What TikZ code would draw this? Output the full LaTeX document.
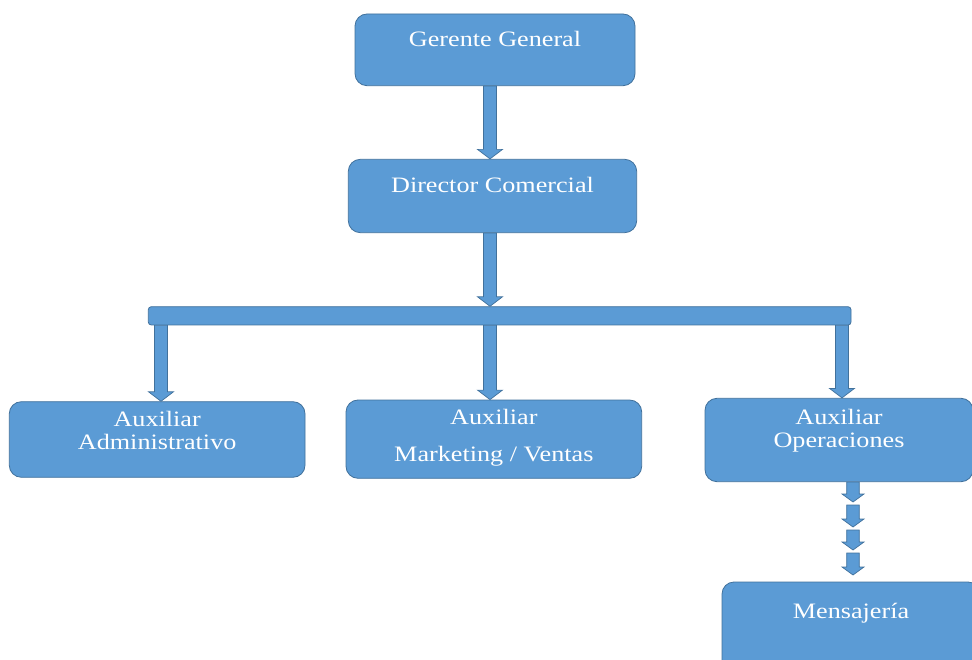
\documentclass[tikz,border=0pt]{standalone}
\usepackage{fontspec}
\setmainfont{Liberation Serif}[FakeStretch=1.19]
\usetikzlibrary{calc}
\definecolor{blu}{HTML}{5B9BD5}
\definecolor{bdr}{HTML}{41719C}
\tikzset{
  box/.style={rectangle, rounded corners=12pt, draw=bdr, fill=blu, line width=0.8pt, inner sep=0pt},
  txt/.style={text=white, font=\fontsize{22}{24}\selectfont, inner sep=0pt, anchor=base},
  blk/.style n args={3}{draw=bdr, fill=blu, line width=0.7pt, line join=miter,
    to path={let \p1=(\tikztostart), \p2=(\tikztotarget) in
      (\x1-#1,\y1) -- (\x1+#1,\y1) -- (\x1+#1,\y2+#3) -- (\x1+#2,\y2+#3) -- (\x1,\y2)
      -- (\x1-#2,\y2+#3) -- (\x1-#1,\y2+#3) -- cycle}},
  bigarrow/.style={blk={6.5pt}{12.5pt}{9.5pt}},
  smallarrow/.style={blk={6.3pt}{11pt}{8pt}}
}
\begin{document}
\begin{tikzpicture}[x=1pt,y=-1pt]
\useasboundingbox (0,0) rectangle (972,660);

\node[box, minimum width=280pt, minimum height=71.7pt,
  label={[txt,yshift=-33.3pt]north:Gerente General}] (gg) at (495,49.85) {};
\node[box, minimum width=288.4pt, minimum height=73.4pt,
  label={[txt,yshift=-33.7pt]north:Director Comercial}] (dc) at (492.5,196) {};
\node[box, rounded corners=3pt, minimum width=702.7pt, minimum height=18.3pt] (bar) at (499.65,315.85) {};
\node[box, minimum width=295.7pt, minimum height=75.6pt,
  label={[txt,yshift=-25pt]north:Auxiliar},
  label={[txt,yshift=-48.3pt]north:Administrativo}] (adm) at (157.15,439.5) {};
\node[box, minimum width=295.7pt, minimum height=78.3pt,
  label={[txt,yshift=-25pt]north:Auxiliar},
  label={[txt,yshift=-61.7pt]north:Marketing / Ventas}] (mkt) at (493.85,439.15) {};
\node[box, minimum width=268pt, minimum height=83.4pt,
  label={[txt,yshift=-26.7pt]north:Auxiliar},
  label={[txt,yshift=-49.7pt]north:Operaciones}] (ops) at (839,440) {};
\node[box, minimum width=258pt, minimum height=90pt,
  label={[txt,yshift=-37pt]north:Mensajería}] (msj) at (851,627) {};

% x positions of connectors
\coordinate (xm) at (490,0);
\coordinate (xl) at (161,0);
\coordinate (xr) at (842,0);
\coordinate (xs) at (853,0);

\draw[bigarrow] (gg.south -| xm) to (dc.north -| xm);
\draw[bigarrow] (dc.south -| xm) to (bar.north -| xm);
\draw[bigarrow] (bar.south -| xl) to (adm.north -| xl);
\draw[bigarrow] (bar.south -| xm) to (mkt.north -| xm);
\draw[bigarrow] (bar.south -| xr) to (ops.north -| xr);

% chain of small arrows
\coordinate (s1) at (853,502);
\coordinate (s2) at (853,505);
\coordinate (s3) at (853,527);
\coordinate (s4) at (853,530);
\coordinate (s5) at (853,550);
\coordinate (s6) at (853,553);
\coordinate (s7) at (853,575);
\draw[smallarrow] (ops.south -| xs) to (s1);
\draw[smallarrow] (s2) to (s3);
\draw[smallarrow] (s4) to (s5);
\draw[smallarrow] (s6) to (s7);
\end{tikzpicture}
\end{document}
